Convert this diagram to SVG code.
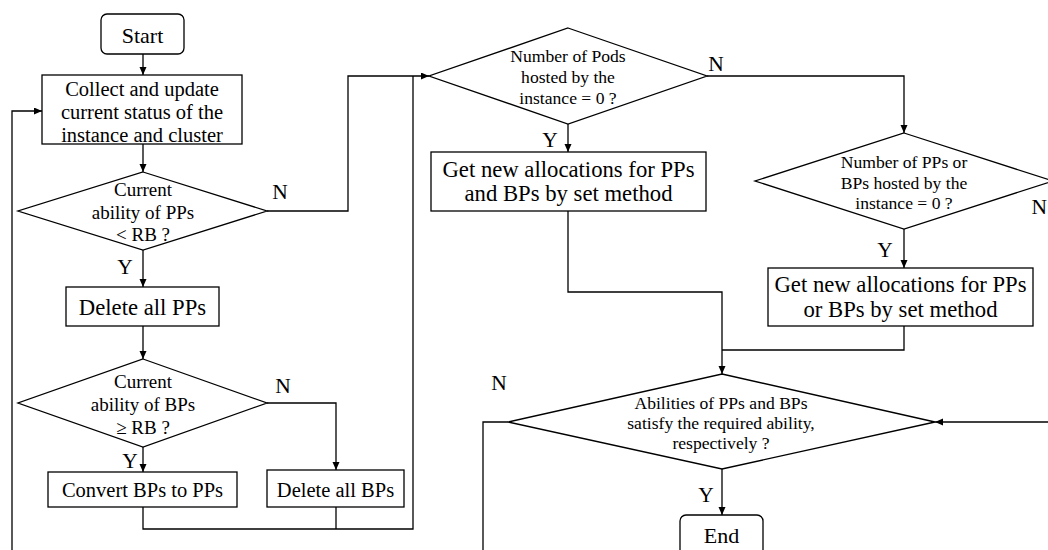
<svg xmlns="http://www.w3.org/2000/svg" width="1048" height="550" viewBox="0 0 1048 550">
  <defs>
    <marker id="arrow" markerUnits="userSpaceOnUse" markerWidth="9" markerHeight="8" refX="8" refY="3.5" orient="auto">
      <path d="M0,0 L8,3.5 L0,7 z" fill="#000"/>
    </marker>
    <style>
      .shape { fill: #fff; stroke: #000; stroke-width: 1.3; }
      .edge { fill: none; stroke: #000; stroke-width: 1.3; }
      .arr { marker-end: url(#arrow); }
      text { font-family: "Liberation Serif", "Times New Roman", serif; fill: #000; text-anchor: middle; }
      .bx { font-size: 20.5px; }
      .bxl { font-size: 22.7px; }
      .term { font-size: 22px; }
      .dm { font-size: 19px; }
      .ds { font-size: 17.6px; }
      .lbl { font-size: 21.5px; }
    </style>
  </defs>
  <rect width="1048" height="550" fill="#fff"/>

  <!-- connectors -->
  <g id="connectors">
    <path class="edge arr" d="M143,54 V75"/>
    <path class="edge arr" d="M143,144 V172"/>
    <path class="edge arr" d="M143,250 V287"/>
    <path class="edge arr" d="M143,326 V359"/>
    <path class="edge arr" d="M143,447 V472"/>
    <path class="edge arr" d="M267,403 H336 V470"/>
    <path class="edge" d="M143,507 V529 H413 V76"/>
    <path class="edge" d="M336,507 V529"/>
    <path class="edge arr" d="M267,211 H348 V76 H429"/>
    <path class="edge arr" d="M12,550 V111 H42"/>
    <path class="edge arr" d="M707,76 H904 V133"/>
    <path class="edge arr" d="M568,124 V152"/>
    <path class="edge arr" d="M568,211 V292 H722 V374"/>
    <path class="edge arr" d="M904,229 V268"/>
    <path class="edge" d="M904,326 V350 H722"/>
    <path class="edge arr" d="M722,469 V515"/>
    <path class="edge" d="M508,422 H483 V550"/>
    <path class="edge arr" d="M1048,422 H935"/>
    <text class="lbl" x="280" y="199">N</text>
    <text class="lbl" x="125" y="274">Y</text>
    <text class="lbl" x="283" y="393">N</text>
    <text class="lbl" x="130" y="468">Y</text>
    <text class="lbl" x="716" y="71">N</text>
    <text class="lbl" x="550" y="147">Y</text>
    <text class="lbl" x="1047" y="214" style="text-anchor:end">N</text>
    <text class="lbl" x="885" y="257">Y</text>
    <text class="lbl" x="499" y="390">N</text>
    <text class="lbl" x="706" y="502">Y</text>
  </g>

  <g id="start">
    <rect class="shape" x="101" y="14" width="83" height="40" rx="6"/>
    <text class="term" x="142.5" y="43">Start</text>
  </g>

  <g id="collect">
    <rect class="shape" x="42" y="75" width="200" height="69"/>
    <text class="bx" x="142" y="96">Collect and update</text>
    <text class="bx" x="142" y="119">current status of the</text>
    <text class="bx" x="142" y="142">instance and cluster</text>
  </g>

  <g id="check-pp">
    <polygon class="shape" points="143,172 267,211 143,250 18,211"/>
    <text class="dm" x="143" y="196">Current</text>
    <text class="dm" x="143" y="219">ability of PPs</text>
    <text class="dm" x="143" y="241">&lt; RB ?</text>
  </g>

  <g id="delete-pp">
    <rect class="shape" x="66" y="287" width="153" height="39"/>
    <text class="bxl" x="142.5" y="315">Delete all PPs</text>
  </g>

  <g id="check-bp">
    <polygon class="shape" points="143,359 267,403 143,447 18,403"/>
    <text class="dm" x="143" y="388">Current</text>
    <text class="dm" x="143" y="411">ability of BPs</text>
    <text class="dm" x="143" y="434">≥ RB ?</text>
  </g>

  <g id="convert">
    <rect class="shape" x="48" y="472" width="189" height="35"/>
    <text class="bx" x="142.5" y="497">Convert BPs to PPs</text>
  </g>

  <g id="delete-bp">
    <rect class="shape" x="267" y="470" width="137" height="37"/>
    <text class="bx" x="335.5" y="497">Delete all BPs</text>
  </g>

  <g id="check-pods">
    <polygon class="shape" points="568,28 707,76 568,124 429,76"/>
    <text class="ds" x="568" y="62">Number of Pods</text>
    <text class="ds" x="568" y="83">hosted by the</text>
    <text class="ds" x="568" y="104">instance = 0 ?</text>
  </g>

  <g id="alloc-both">
    <rect class="shape" x="431" y="152" width="275" height="59"/>
    <text class="bxl" x="568.5" y="177">Get new allocations for PPs</text>
    <text class="bxl" x="568.5" y="201">and BPs by set method</text>
  </g>

  <g id="check-pp-bp">
    <polygon class="shape" points="904,133 1053,181 904,229 755,181"/>
    <text class="ds" x="904" y="168">Number of PPs or</text>
    <text class="ds" x="904" y="189">BPs hosted by the</text>
    <text class="ds" x="904" y="209">instance = 0 ?</text>
  </g>

  <g id="alloc-one">
    <rect class="shape" x="768" y="268" width="265" height="58"/>
    <text class="bxl" x="900.5" y="292">Get new allocations for PPs</text>
    <text class="bxl" x="900.5" y="317">or BPs by set method</text>
  </g>

  <g id="check-ability">
    <polygon class="shape" points="722,374 935,422 722,469 508,422"/>
    <text class="ds" x="721" y="409">Abilities of PPs and BPs</text>
    <text class="ds" x="721" y="429">satisfy the required ability,</text>
    <text class="ds" x="721" y="449">respectively ?</text>
  </g>

  <g id="end">
    <rect class="shape" x="680" y="515" width="83" height="50" rx="6"/>
    <text class="term" x="721.5" y="543">End</text>
  </g>
</svg>
